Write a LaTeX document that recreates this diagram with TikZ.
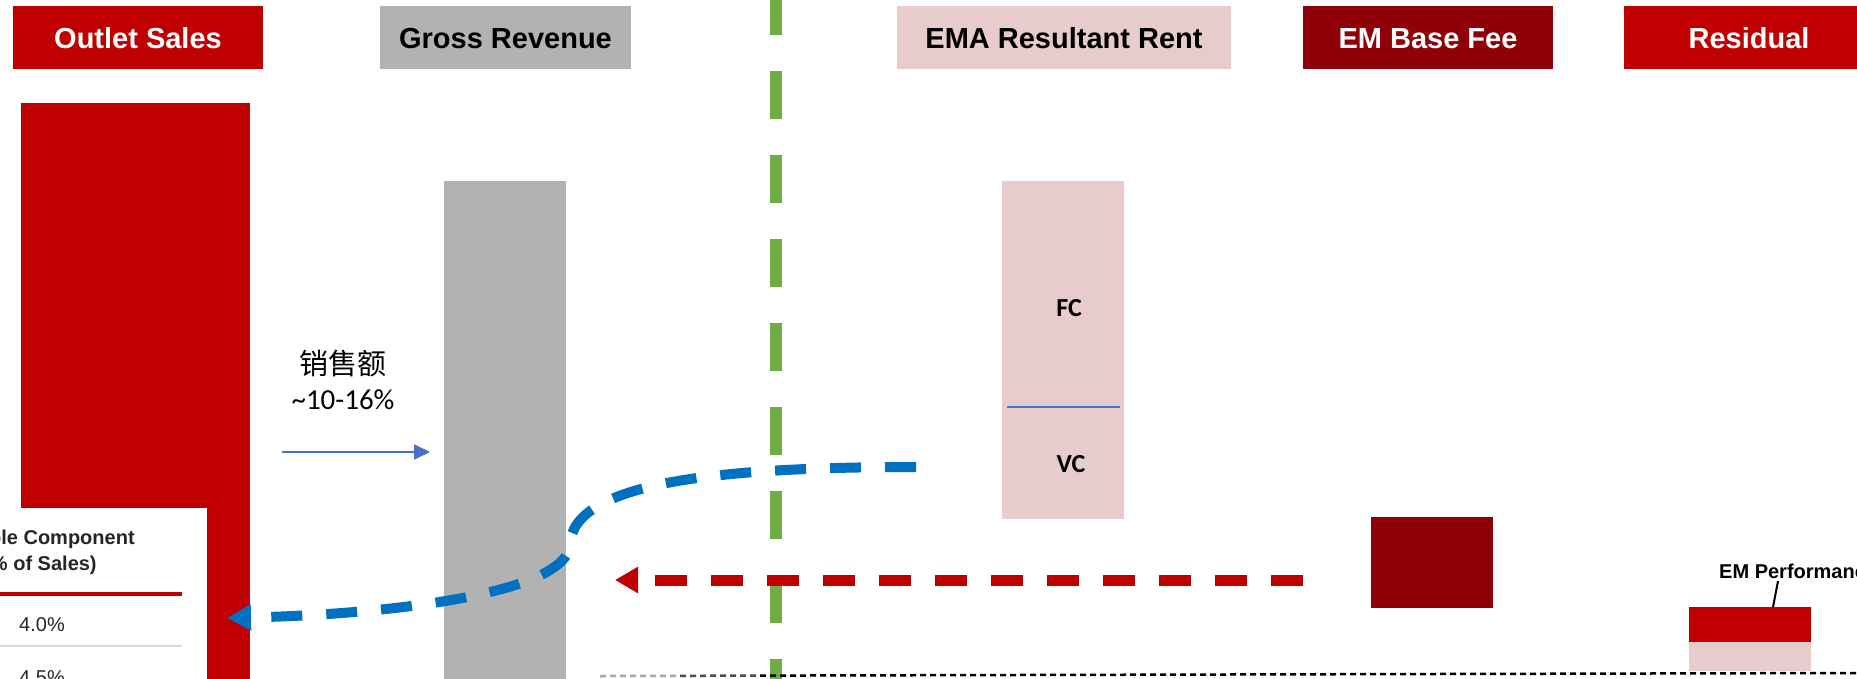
\documentclass[tikz,border=0pt]{standalone}
\usepackage{fontspec}
\setmainfont{Liberation Sans}
\newfontfamily\carlito{Carlito}
\newfontfamily\cjk{Noto Sans CJK SC}
\usetikzlibrary{arrows.meta}
\definecolor{cRed}{HTML}{C00000}
\definecolor{cDark}{HTML}{900008}
\definecolor{cPink}{HTML}{E8CCCC}
\definecolor{cGray}{HTML}{B2B2B2}
\definecolor{cGreen}{HTML}{70AD47}
\definecolor{cBlue}{HTML}{0070C0}
\definecolor{cLine}{HTML}{4472C4}
\definecolor{cTxt}{HTML}{262626}
\begin{document}
\begin{tikzpicture}[x=1pt,y=-1pt,
  hdr/.style={minimum height=63pt, inner sep=0pt, font=\fontsize{29}{34}\selectfont\bfseries, text height=21pt, text depth=0pt},
  barbox/.style={inner sep=0pt, draw=none, minimum width=122pt},
  cal/.style={font=\fontsize{26}{30}\selectfont\carlito\bfseries, text height=17pt, text depth=0pt, inner sep=0pt},
  tbl/.style={font=\fontsize{20}{24}\selectfont, text=cTxt, inner sep=0pt, anchor=base},
  flowdash/.style={line width=10pt, dash pattern=on 31pt off 24pt},
  baseline dash/.style={line width=2.5pt, dash pattern=on 6pt off 4pt}]
\useasboundingbox (0,0) rectangle (1857,678);
\clip (0,0) rectangle (1857,678);
\fill[white] (0,0) rectangle (1857,678);

% headers
\node[hdr, fill=cRed, text=white, minimum width=250pt] (hOut) at (138,37.5) {Outlet Sales};
\node[hdr, fill=cGray, text=black, minimum width=251pt] (hGross) at (505.5,37.5) {Gross Revenue};
\node[hdr, fill=cPink, text=black, minimum width=334pt] (hEma) at (1064,37.5) {EMA Resultant Rent};
\node[hdr, fill=cDark, text=white, minimum width=250pt] (hBase) at (1428,37.5) {EM Base Fee};
\node[hdr, fill=cRed, text=white, minimum width=250pt] (hRes) at (1749,37.5) {Residual};

% green separator
\coordinate (gTop) at (776,-13);
\coordinate (gBot) at (776,690);
\draw[cGreen, line width=12pt, dash pattern=on 48pt off 36pt] (gTop) -- (gBot);

% bars
\node[barbox, fill=cRed, minimum width=229pt, minimum height=587pt] (bOut) at (135.5,396.5) {};
\node[barbox, fill=cGray, minimum height=509pt] (bGross) at (505,435.5) {};
\node[barbox, fill=cPink, minimum height=338pt] (bEma) at (1063,350) {};
\node[barbox, fill=cDark, minimum height=91pt] (bBase) at (1432,562.5) {};
\node[barbox, fill=cRed, minimum height=35pt] (bResA) at (1750,624.5) {};
\node[barbox, fill=cPink, minimum height=29pt] (bResB) at (1750,656.5) {};

% EMA split
\coordinate (dL) at (1007,407);
\coordinate (dR) at (1120,407);
\draw[cLine, line width=1.2pt] (dL) -- (dR);
\node[cal] (fc) at (1069,308) {FC};
\node[cal] (vc) at (1071,464) {VC};

% sales label + arrow
\node[font=\fontsize{29}{34}\selectfont\cjk, inner sep=0pt] (lblA) at (343,364) {销售额};
\node[font=\fontsize{29}{34}\selectfont\carlito, inner sep=0pt] (lblB) at (343,400) {\textasciitilde10-16\%};
\coordinate (aS) at (282,452);
\coordinate (aE) at (430,452);
\draw[cLine, line width=2pt, -{Triangle[length=16pt,width=15pt]}] (aS) -- (aE);

% bottom dashed baseline (fading in from grey on the left)
\coordinate (blL) at (600,676);
\coordinate (blA) at (680,675.8);
\coordinate (blB) at (760,675.6);
\coordinate (blR) at (1857,673);
\draw[black!35, baseline dash] (blL) -- (blA);
\draw[black!70, baseline dash] (blA) -- (blB);
\draw[black, baseline dash] (blB) -- (blR);

% red dashed arrow from EM base fee
\coordinate (rS) at (1303,580);
\coordinate (rE) at (615,580);
\draw[cRed, line width=11pt, dash pattern=on 32pt off 24pt, -{Triangle[length=23pt,width=25pt]}] (rS) -- (rE);

% table overlay
\node[fill=white, inner sep=0pt, minimum width=207pt, minimum height=171pt, anchor=north west] (tbl) at (0,508) {};
\node[tbl, font=\fontsize{20}{24}\selectfont\bfseries] (t1) at (38,544) {Variable Component};
\node[tbl, font=\fontsize{20}{24}\selectfont\bfseries] (t2) at (40,570) {(\% of Sales)};
\coordinate (tr1L) at (0,594);
\coordinate (tr1R) at (182,594);
\draw[cRed, line width=4pt] (tr1L) -- (tr1R);
\node[tbl] (t3) at (42,631) {4.0\%};
\coordinate (tr2L) at (0,646);
\coordinate (tr2R) at (182,646);
\draw[black!15, line width=2pt] (tr2L) -- (tr2R);
\node[tbl] (t4) at (42,684) {4.5\%};

% blue dashed curve from VC to outlet sales
\coordinate (cS) at (916,467);
\coordinate (cM) at (570,545);
\coordinate (cE) at (227,618);
\draw[cBlue, flowdash, -{Triangle[length=24pt,width=25pt]}]
  (cS) .. controls (720,467) and (572,482) .. (cM)
       .. controls (566,592) and (400,614) .. (cE);

% EM performance label
\node[font=\fontsize{20}{24}\selectfont\bfseries, inner sep=0pt, anchor=base west] (perf) at (1719,578) {EM Performance};
\coordinate (pl1) at (1778,581);
\coordinate (pl2) at (1773,607);
\draw[black, line width=2pt] (pl1) -- (pl2);
\end{tikzpicture}
\end{document}
